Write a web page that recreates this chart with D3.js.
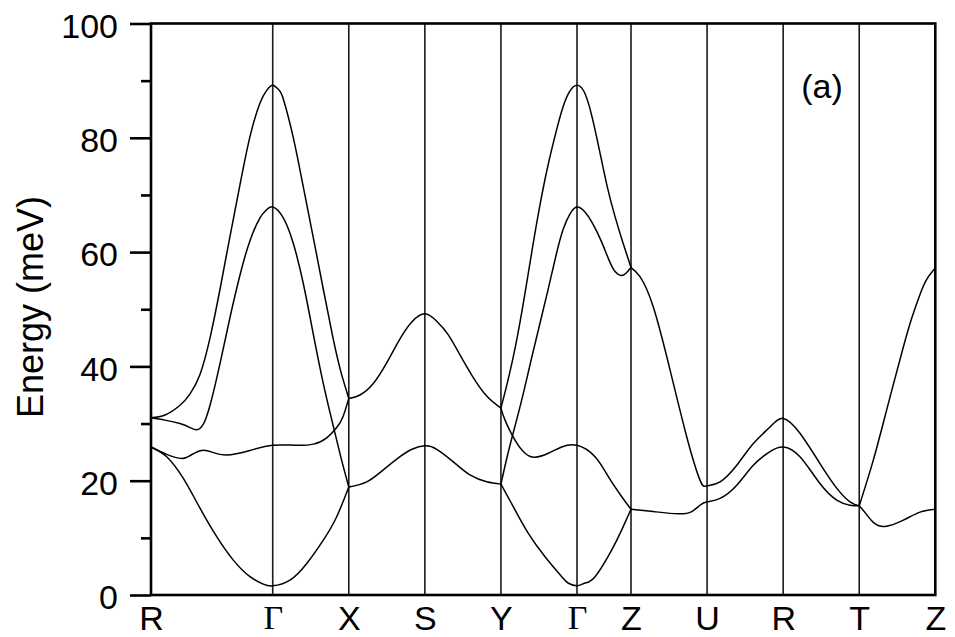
<!DOCTYPE html>
<html>
<head>
<meta charset="utf-8">
<script src="https://cdn.jsdelivr.net/npm/d3@7/dist/d3.min.js"></script>
<style>
  html, body { margin: 0; padding: 0; background: #fff; }
  svg { display: block; }
  text { font-family: "Liberation Sans", Arial, Helvetica, sans-serif; fill: #000; }
</style>
</head>
<body>
<svg id="chart" width="955" height="637"></svg>
<script>
// High-symmetry points along the k-path and their cumulative path positions
const kLabels = ["R", "Γ", "X", "S", "Y", "Γ", "Z", "U", "R", "T", "Z"];
const kPositions = [0, 1.6, 2.6, 3.6, 4.6, 5.6, 6.31, 7.31, 8.31, 9.31, 10.31];

const energyTicks = [0, 20, 40, 60, 80, 100];
const energyMinorTicks = [10, 30, 50, 70, 90];

// Phonon branches as [k, energy (meV)] pairs, one array per smooth piece.
// R → Γ → X
const rgxTop = [[0, 31.0], [0.184, 31.5], [0.381, 33.2], [0.513, 35.2], [0.644, 38.6], [0.776, 45.0],
  [0.907, 53.5], [1.039, 62.8], [1.170, 71.8], [1.301, 80.2], [1.433, 86.1], [1.521, 88.3],
  [1.600, 89.2], [1.679, 88.4], [1.739, 86.8], [1.871, 80.0], [2.002, 71.4], [2.134, 62.5],
  [2.265, 53.5], [2.389, 45.2], [2.491, 39.3], [2.600, 34.4]];
const rgxSecond = [[0, 31.0], [0.184, 30.6], [0.381, 30.0], [0.513, 29.3], [0.601, 28.9], [0.684, 29.8],
  [0.776, 33.2], [0.907, 40.5], [1.039, 48.6], [1.170, 56.0], [1.301, 62.0], [1.433, 66.0],
  [1.512, 67.3], [1.600, 67.9], [1.739, 66.0], [1.871, 61.5], [2.002, 54.5], [2.134, 45.6],
  [2.265, 37.0], [2.397, 29.5], [2.498, 24.0], [2.600, 18.9]];
const rgxThird = [[0, 25.9], [0.206, 24.6], [0.404, 23.9], [0.526, 24.5], [0.666, 25.3], [0.802, 25.0],
  [0.995, 24.5], [1.301, 25.3], [1.600, 26.2], [1.893, 26.2], [2.134, 26.4], [2.310, 27.5],
  [2.441, 29.3], [2.524, 31.2], [2.600, 34.4]];
const rgxAcoustic = [[0, 25.9], [0.206, 24.2], [0.425, 20.4], [0.644, 15.2], [0.864, 10.2], [1.082, 6.1],
  [1.301, 3.2], [1.476, 1.9], [1.600, 1.6], [1.827, 2.6], [2.047, 5.5], [2.265, 9.6],
  [2.441, 13.7], [2.600, 18.9]];

// X → S → Y
const xsyUpper = [[2.600, 34.4], [2.747, 35.0], [2.922, 37.0], [3.098, 40.6], [3.273, 44.8], [3.431, 47.8],
  [3.600, 49.2], [3.756, 47.9], [3.904, 45.6], [4.062, 42.0], [4.220, 38.4], [4.413, 34.8],
  [4.600, 32.7]];
const xsyLower = [[2.600, 18.9], [2.836, 19.8], [3.054, 21.9], [3.273, 24.2], [3.431, 25.5], [3.600, 26.1],
  [3.756, 25.5], [3.974, 23.3], [4.193, 21.0], [4.413, 19.8], [4.600, 19.4]];

// Y → Γ → Z
const ygzTop = [[4.600, 32.7], [4.693, 37.6], [4.798, 44.0], [4.904, 51.8], [5.009, 60.3], [5.114, 68.3],
  [5.219, 75.2], [5.324, 81.0], [5.416, 85.4], [5.508, 88.2], [5.600, 89.2], [5.692, 88.1],
  [5.784, 84.4], [5.889, 78.2], [5.995, 71.6], [6.100, 66.2], [6.205, 61.6], [6.310, 57.3]];
const ygzSecond = [[4.600, 19.4], [4.693, 24.8], [4.798, 30.2], [4.904, 35.8], [5.009, 41.8], [5.114, 47.6],
  [5.219, 53.4], [5.324, 59.4], [5.416, 63.9], [5.508, 66.7], [5.600, 67.9], [5.705, 67.0],
  [5.810, 64.9], [5.916, 62.0], [6.021, 58.6], [6.100, 56.6], [6.179, 55.9], [6.244, 56.3],
  [6.310, 57.3]];
const ygzThird = [[4.600, 32.7], [4.654, 30.6], [4.785, 27.1], [4.917, 24.8], [5.048, 24.1], [5.223, 24.8],
  [5.399, 25.9], [5.600, 26.2], [5.837, 24.2], [6.012, 20.7], [6.188, 17.2], [6.310, 15.0]];
const ygzAcoustic = [[4.600, 19.4], [4.785, 14.9], [4.960, 10.8], [5.180, 6.7], [5.399, 3.2], [5.482, 2.1],
  [5.600, 1.6], [5.705, 2.1], [5.837, 3.2], [6.057, 7.9], [6.188, 11.4], [6.310, 15.0]];

// Z → U → R → T
const zurtUpper = [[6.310, 57.3], [6.428, 55.7], [6.603, 50.4], [6.823, 39.4], [7.042, 27.7], [7.217, 20.1],
  [7.310, 19.1], [7.481, 19.8], [7.700, 22.7], [7.918, 26.5], [8.137, 29.4], [8.310, 30.9],
  [8.531, 28.3], [8.794, 23.0], [9.014, 18.7], [9.189, 16.3], [9.310, 15.6]];
const zurtLower = [[6.310, 15.0], [6.603, 14.6], [6.932, 14.2], [7.108, 14.6], [7.217, 15.7], [7.310, 16.3],
  [7.481, 16.9], [7.700, 19.2], [7.918, 22.7], [8.137, 25.1], [8.310, 25.9], [8.531, 24.2],
  [8.794, 19.5], [9.014, 16.6], [9.189, 15.7], [9.310, 15.6]];

// T → Z
const tzUpper = [[9.310, 15.6], [9.495, 23.6], [9.671, 32.4], [9.890, 43.4], [10.004, 48.6],
  [10.109, 52.6], [10.201, 55.3], [10.310, 57.2]];
const tzLower = [[9.310, 15.6], [9.400, 14.2], [9.495, 12.7], [9.649, 12.0], [9.890, 13.1],
  [10.109, 14.5], [10.310, 15.0]];

const branches = [rgxTop, rgxSecond, rgxThird, rgxAcoustic, xsyUpper, xsyLower,
  ygzTop, ygzSecond, ygzThird, ygzAcoustic, zurtUpper, zurtLower, tzUpper, tzLower];

// ---- layout ----
const svg = d3.select("#chart");
const plot = { left: 151, right: 935.3, top: 23.5, bottom: 595 };

const x = d3.scaleLinear().domain(d3.extent(kPositions)).range([plot.left, plot.right]);
const y = d3.scaleLinear().domain([0, 100]).range([plot.bottom, plot.top]);

// vertical lines at the interior high-symmetry points
svg.append("g")
  .selectAll("line")
  .data(kPositions.slice(1, -1))
  .join("line")
  .attr("x1", d => x(d)).attr("x2", d => x(d))
  .attr("y1", plot.top).attr("y2", plot.bottom)
  .attr("stroke", "#1a1a1a")
  .attr("stroke-width", 1.6);

// dispersion curves (smooth spline through each piece)
const line = d3.line()
  .x(d => x(d[0]))
  .y(d => y(d[1]))
  .curve(d3.curveNatural);

svg.append("g")
  .selectAll("path")
  .data(branches)
  .join("path")
  .attr("d", line)
  .attr("fill", "none")
  .attr("stroke", "#000")
  .attr("stroke-width", 1.5);

// frame
svg.append("rect")
  .attr("x", plot.left).attr("y", plot.top)
  .attr("width", plot.right - plot.left)
  .attr("height", plot.bottom - plot.top)
  .attr("fill", "none")
  .attr("stroke", "#000")
  .attr("stroke-width", 2.6);

// energy axis: labelled major ticks and short minor ticks
const yAxis = svg.append("g")
  .attr("transform", `translate(${plot.left},0)`)
  .call(d3.axisLeft(y).tickValues(energyTicks).tickSize(21).tickPadding(12).tickFormat(d3.format("d")));
yAxis.select(".domain").remove();
yAxis.selectAll("line").attr("stroke", "#000").attr("stroke-width", 2.6);
yAxis.selectAll("text")
  .attr("dy", "0.4em")
  .style("font-family", "'Liberation Sans', Arial, sans-serif")
  .style("font-size", "34px")
  .attr("fill", "#000");

const yMinor = svg.append("g")
  .attr("transform", `translate(${plot.left},0)`)
  .call(d3.axisLeft(y).tickValues(energyMinorTicks).tickSize(10).tickFormat(""));
yMinor.select(".domain").remove();
yMinor.selectAll("line").attr("stroke", "#000").attr("stroke-width", 2.6);

// k-path labels
const isGamma = d => kLabels[kPositions.indexOf(d)] === "Γ";
const xAxis = svg.append("g")
  .attr("transform", `translate(0,${plot.bottom})`)
  .call(d3.axisBottom(x).tickValues(kPositions).tickSize(0).tickPadding(11)
    .tickFormat((d, i) => kLabels[i]));
xAxis.select(".domain").remove();
xAxis.selectAll("text")
  .style("font-family", d => isGamma(d)
    ? "'Liberation Serif', 'Times New Roman', serif"
    : "'Liberation Sans', Arial, sans-serif")
  .style("font-size", d => isGamma(d) ? "34px" : "34px")
  .attr("dy", d => isGamma(d) ? "23px" : "0.71em")
  .attr("fill", "#000");

// axis title
svg.append("text")
  .attr("transform", `translate(43,307) rotate(-90)`)
  .attr("text-anchor", "middle")
  .style("font-size", "36px")
  .text("Energy (meV)");

// panel tag
svg.append("text")
  .attr("x", 822).attr("y", 98)
  .attr("text-anchor", "middle")
  .style("font-size", "34px")
  .text("(a)");
</script>
</body>
</html>
